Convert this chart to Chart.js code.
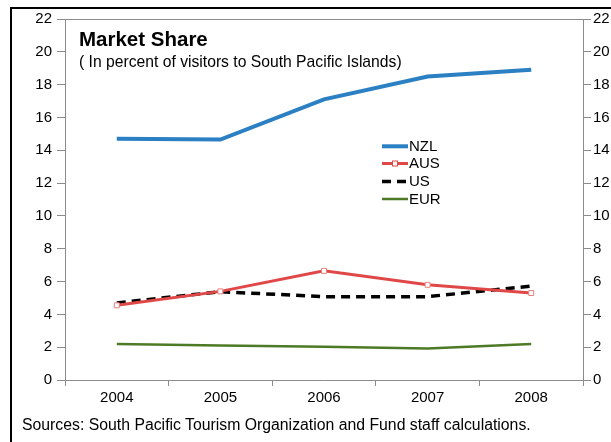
<!DOCTYPE html>
<html><head><meta charset="utf-8">
<script src="https://cdn.jsdelivr.net/npm/chart.js@4/dist/chart.umd.min.js"></script>
<style>
html,body{margin:0;padding:0;background:#fff;}
#wrap{position:relative;width:611px;height:442px;overflow:hidden;font-family:"Liberation Sans",Arial,sans-serif;}
#frame{position:absolute;left:10px;top:7px;width:620px;height:460px;border-left:2px solid #000;border-top:2px solid #000;}
canvas{position:absolute;left:0;top:0;}
.t{position:absolute;line-height:1;white-space:nowrap;color:#000;}
#title{left:79px;top:29.3px;font-size:20.5px;font-weight:bold;}
#sub{left:79px;top:53.6px;font-size:15.7px;}
#src{left:22px;top:417.4px;font-size:15.8px;}
</style></head>
<body><div id="wrap"><div id="frame"></div><canvas id="c" width="611" height="442"></canvas>
<div class="t" id="title">Market Share</div>
<div class="t" id="sub">( In percent of visitors to South Pacific Islands)</div>
<div class="t" id="src">Sources: South Pacific Tourism Organization and Fund staff calculations.</div>
</div>
<script>
const years = ["2004","2005","2006","2007","2008"];
const nzl = [14.7, 14.65, 17.1, 18.5, 18.9];
const aus = [4.55, 5.4, 6.65, 5.8, 5.3];
const us  = [4.7, 5.38, 5.08, 5.08, 5.72];
const eur = [2.2, 2.1, 2.02, 1.92, 2.2];
const yTicks = [0,2,4,6,8,10,12,14,16,18,20,22];

const FONT = {family:"'Liberation Sans', Arial, sans-serif", size:15};

const framePlugin = {
  id:'framePlugin',
  beforeDatasetsDraw(chart){
    const a = chart.chartArea, ctx = chart.ctx;
    ctx.save();
    ctx.strokeStyle = '#8c8c8c'; ctx.lineWidth = 1;
    ctx.beginPath(); ctx.moveTo(a.left, a.top+0.5); ctx.lineTo(a.right, a.top+0.5); ctx.stroke();
    ctx.restore();
  },
  afterDatasetsDraw(chart){
    const ctx = chart.ctx;
    const x0 = 382, x1 = 408, tx = 409;
    const ys = [146.3, 163.5, 181.4, 199];
    ctx.save();
    ctx.font = "15px 'Liberation Sans', Arial, sans-serif";
    ctx.textBaseline = 'middle';
    chart.data.datasets.forEach((d,i)=>{
      const y = ys[i];
      ctx.strokeStyle = d.borderColor; ctx.lineWidth = d.borderWidth;
      ctx.setLineDash(d.borderDash || []);
      ctx.beginPath(); ctx.moveTo(x0, y); ctx.lineTo(x1, y); ctx.stroke();
      ctx.setLineDash([]);
      if (d.pointRadius > 0){
        ctx.fillStyle = '#fff'; ctx.strokeStyle = d.borderColor; ctx.lineWidth = 1;
        ctx.fillRect((x0+x1)/2-2.5, y-2.5, 5, 5);
        ctx.strokeRect((x0+x1)/2-2.5, y-2.5, 5, 5);
      }
      ctx.fillStyle = '#000';
      ctx.fillText(d.label, tx, y+0.5);
    });
    ctx.restore();
  }
};

new Chart(document.getElementById('c'), {
  type:'line',
  data:{
    labels: years,
    datasets:[
      {label:'NZL', data:nzl, borderColor:'#2b7fc3', borderWidth:4, pointRadius:0, tension:0, yAxisID:'y'},
      {label:'AUS', data:aus, borderColor:'#e04848', borderWidth:3, pointRadius:3.5, pointStyle:'rect', pointBackgroundColor:'#fff', pointBorderColor:'#e88080', pointBorderWidth:1, tension:0, yAxisID:'y'},
      {label:'US', data:us, borderColor:'#000', borderWidth:3.5, borderDash:[9,6], pointRadius:0, tension:0, yAxisID:'y'},
      {label:'EUR', data:eur, borderColor:'#4d7a26', borderWidth:2.5, pointRadius:0, tension:0, yAxisID:'y'}
    ]
  },
  options:{
    responsive:false, animation:false, devicePixelRatio:1,
    layout:{padding:{left:0,right:0,top:19,bottom:0}},
    plugins:{legend:{display:false}, tooltip:{enabled:false}},
    scales:{
      x:{
        offset:true,
        grid:{display:true, drawOnChartArea:false, offset:true, tickLength:6, color:'#8c8c8c'},
        border:{color:'#8c8c8c', width:1},
        ticks:{font:FONT, color:'#000', padding:3, maxRotation:0},
        afterFit(s){ s.height = 62; }
      },
      y:{
        position:'left', min:0, max:22,
        afterBuildTicks(s){ s.ticks = yTicks.map(v=>({value:v})); },
        grid:{display:true, drawOnChartArea:false, tickLength:8, color:'#8c8c8c'},
        border:{color:'#8c8c8c', width:1},
        ticks:{font:FONT, color:'#000', padding:5},
        afterFit(s){ s.width = 65; }
      },
      y2:{
        position:'right', min:0, max:22,
        afterBuildTicks(s){ s.ticks = yTicks.map(v=>({value:v})); },
        grid:{display:true, drawOnChartArea:false, tickLength:8, color:'#8c8c8c'},
        border:{color:'#8c8c8c', width:1},
        ticks:{font:FONT, color:'#000', padding:2},
        afterFit(s){ s.width = 28; }
      }
    }
  },
  plugins:[framePlugin]
});
</script>
</body></html>
